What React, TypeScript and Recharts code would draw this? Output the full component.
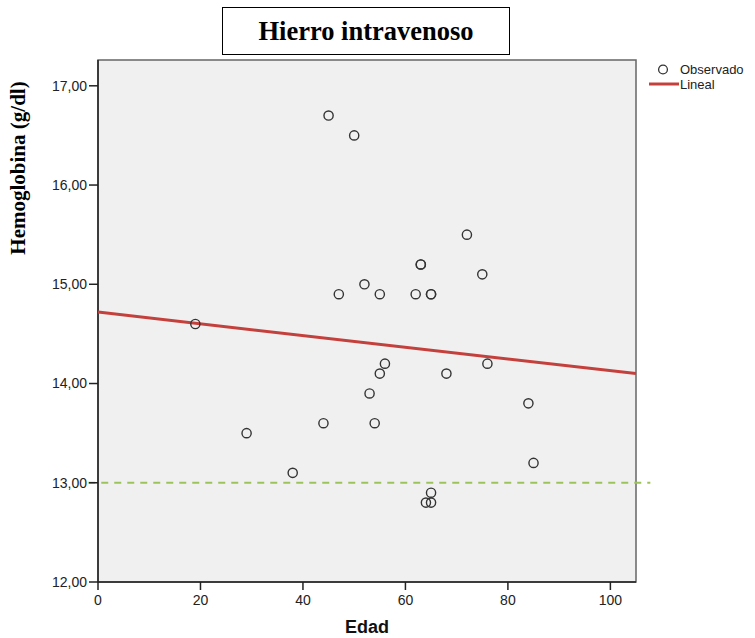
import React from "react";
import {
  ScatterChart,
  Scatter,
  XAxis,
  YAxis,
  ReferenceArea,
  ReferenceLine,
  Label,
  Legend,
} from "recharts";

const edad = [19, 29, 38, 44, 45, 47, 50, 52, 53, 54, 55, 55, 56, 62, 63, 63, 64, 65, 65, 65, 65, 68, 72, 75, 76, 84, 85];
const hemoglobina = [14.6, 13.5, 13.1, 13.6, 16.7, 14.9, 16.5, 15.0, 13.9, 13.6, 14.1, 14.9, 14.2, 14.9, 15.2, 15.2, 12.8, 12.8, 12.9, 14.9, 14.9, 14.1, 15.5, 15.1, 14.2, 13.8, 13.2];

// Linear fit end points
const fitEdad = [0, 105];
const fitHemoglobina = [14.72, 14.1];

const umbral = 13;
const xTicks = [0, 20, 40, 60, 80, 100];
const yTicks = [12, 13, 14, 15, 16, 17];
const xDomain = [0, 105];
const yDomain = [12, 17.26];

const observed = edad.map((e, i) => ({ edad: e, hb: hemoglobina[i] }));
const fit = fitEdad.map((e, i) => ({ edad: e, hb: fitHemoglobina[i] }));

const sans = "'Liberation Sans', Arial, sans-serif";
const serif = "'Liberation Serif', 'Times New Roman', serif";
const RED = "#c4403c";

const OpenCircle = (props: any) => (
  <circle cx={props.cx} cy={props.cy} r={4.6} fill="none" stroke="#333" strokeWidth={1.4} />
);

const LegendBox = () => (
  <div style={{ fontFamily: sans, fontSize: 13, color: "#222", lineHeight: "13px" }}>
    <div style={{ display: "flex", alignItems: "center", height: 15 }}>
      <svg width={31} height={15}>
        <circle cx={14} cy={7.5} r={4.4} fill="none" stroke="#333" strokeWidth={1.3} />
      </svg>
      <span>Observado</span>
    </div>
    <div style={{ display: "flex", alignItems: "center", height: 14 }}>
      <svg width={31} height={14}>
        <line x1={0} x2={30} y1={7} y2={7} stroke={RED} strokeWidth={3} />
      </svg>
      <span>Lineal</span>
    </div>
  </div>
);

export default function App() {
  return (
    <div style={{ position: "absolute", left: 0, top: 0, width: 755, height: 638, background: "#fff" }}>
      <div
        style={{
          position: "absolute",
          left: 222,
          top: 7,
          width: 286,
          height: 46,
          border: "1.5px solid #000",
          fontFamily: serif,
          fontWeight: "bold",
          fontSize: 26.5,
          lineHeight: "46px",
          textAlign: "center",
          color: "#000",
        }}
      >
        Hierro intravenoso
      </div>
      <ScatterChart
        width={755}
        height={638}
        margin={{ top: 60, right: 119, left: 0, bottom: 0 }}
      >
        <ReferenceArea
          x1={xDomain[0]}
          x2={xDomain[1]}
          y1={yDomain[0]}
          y2={yDomain[1]}
          fill="#f0f0f0"
          fillOpacity={1}
          stroke="#666"
          strokeWidth={1.5}
        />
        <XAxis
          type="number"
          dataKey="edad"
          domain={xDomain}
          ticks={xTicks}
          allowDataOverflow
          height={56}
          tickSize={8}
          tickMargin={5}
          axisLine={{ stroke: "#222", strokeWidth: 1.5 }}
          tickLine={{ stroke: "#222", strokeWidth: 1.5 }}
          tick={{ fill: "#222", fontSize: 14, fontFamily: sans }}
        >
          <Label
            value="Edad"
            position="insideBottom"
            offset={5}
            style={{ fontFamily: sans, fontWeight: "bold", fontSize: 18, fill: "#111" }}
          />
        </XAxis>
        <YAxis
          type="number"
          dataKey="hb"
          domain={yDomain}
          ticks={yTicks}
          allowDataOverflow
          width={98}
          tickSize={9}
          tickMargin={2}
          tickFormatter={(v: number) => v.toFixed(2).replace(".", ",")}
          axisLine={{ stroke: "#222", strokeWidth: 1.5 }}
          tickLine={{ stroke: "#222", strokeWidth: 1.5 }}
          tick={{ fill: "#222", fontSize: 14, fontFamily: sans }}
        >
          <Label
            content={() => (
              <text
                x={25}
                y={168}
                transform="rotate(-90 25 168)"
                textAnchor="middle"
                fontFamily={serif}
                fontWeight="bold"
                fontSize={21}
                fill="#000"
              >
                Hemoglobina (g/dl)
              </text>
            )}
          />
        </YAxis>
        <ReferenceLine
          segment={[
            { x: -1.9, y: umbral },
            { x: 107.8, y: umbral },
          ]}
          ifOverflow="visible"
          stroke="#9cc35a"
          strokeWidth={1.8}
          strokeDasharray="7 6"
        />
        <Scatter
          name="Lineal"
          data={fit}
          line={{ stroke: RED, strokeWidth: 3 }}
          shape={() => <g />}
          isAnimationActive={false}
        />
        <Scatter name="Observado" data={observed} shape={OpenCircle} isAnimationActive={false} />
        <Legend
          layout="vertical"
          align="center"
          verticalAlign="middle"
          content={() => <LegendBox />}
          wrapperStyle={{ position: "absolute", left: 649, top: 62, width: 106 }}
        />
      </ScatterChart>
    </div>
  );
}
